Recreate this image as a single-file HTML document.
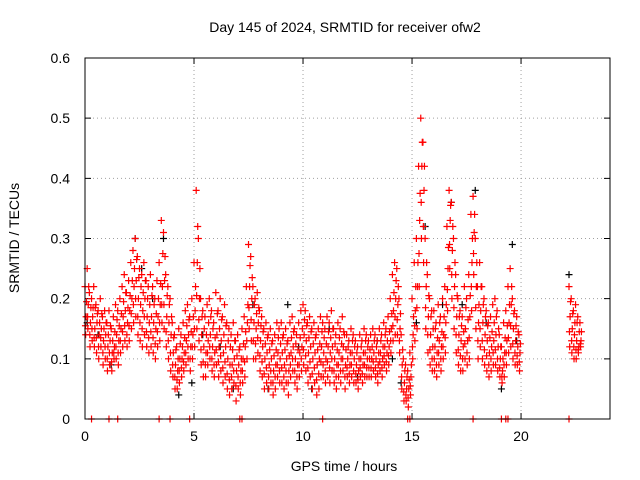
<!DOCTYPE html>
<html><head><meta charset="utf-8"><style>
body{margin:0;background:#fff;}
svg{display:block;font-family:"Liberation Sans",sans-serif;}
</style></head><body>
<svg id="chart" width="640" height="480">
<text x="345" y="32" text-anchor="middle" font-size="14">Day 145 of 2024, SRMTID for receiver ofw2</text>
<text x="344" y="471" text-anchor="middle" font-size="14">GPS time / hours</text>
<text transform="translate(19,238) rotate(-90)" text-anchor="middle" font-size="14">SRMTID / TECUs</text>
<g id="grid"></g><g id="marks"></g>
<rect x="85" y="58" width="525" height="361" fill="none" stroke="#000" stroke-width="1"/>
</svg>
<script>
const xTicks=[0,5,10,15,20];
const yTicks=[0,0.1,0.2,0.3,0.4,0.5,0.6];
const yTickLabels=["0","0.1","0.2","0.3","0.4","0.5","0.6"];
const hiVals=[.22,.25,.21,.20,.22,.19,.18,.20,.17,.18,.16,.18,.15,.17,.19,.18,.20,.22,.24,.21,.23,.26,.28,.30,.27,.25,.24,.26,.23,.22,.24,.22,.20,.23,.26,.33,.31,.24,.22,.20,.16,.14,.12,.15,.14,.16,.18,.19,.17,.20,.26,.38,.30,.20,.18,.17,.19,.20,.18,.16,.21,.18,.20,.17,.19,.16,.15,.14,.16,.13,.14,.12,.15,.17,.22,.29,.27,.22,.20,.21,.18,.17,.15,.16,.14,.15,.13,.14,.16,.15,.16,.14,.15,.13,.16,.17,.15,.14,.16,.18,.19,.18,.16,.17,.15,.16,.14,.15,.17,.16,.15,.17,.16,.18,.15,.14,.16,.15,.17,.14,.14,.13,.15,.14,.13,.12,.14,.13,.15,.14,.13,.14,.15,.14,.13,.15,.14,.16,.15,.17,.20,.24,.26,.25,.20,.14,.10,.09,.08,.11,.20,.26,.30,.42,.50,.46,.30,.24,.20,.18,.18,.16,.19,.17,.20,.22,.32,.38,.36,.30,.24,.20,.18,.17,.22,.20,.24,.34,.37,.30,.22,.26,.22,.20,.18,.16,.17,.19,.20,.18,.14,.12,.16,.18,.22,.25,.20,.18,.17,.14];
const midVals=[.17,.19,.16,.17,.15,.16,.14,.15,.13,.14,.12,.13,.11,.12,.14,.13,.15,.17,.18,.16,.18,.20,.22,.23,.20,.19,.18,.20,.17,.16,.17,.16,.15,.17,.19,.22,.23,.17,.16,.14,.11,.09,.08,.10,.10,.11,.13,.14,.12,.14,.18,.26,.20,.14,.12,.11,.13,.14,.12,.11,.14,.12,.13,.11,.12,.10,.09,.09,.10,.08,.09,.08,.10,.12,.16,.22,.20,.16,.15,.16,.13,.12,.10,.11,.09,.10,.08,.09,.11,.10,.11,.09,.10,.08,.11,.12,.10,.09,.11,.12,.14,.13,.11,.12,.10,.11,.09,.10,.12,.11,.10,.12,.11,.12,.10,.09,.11,.10,.12,.09,.10,.09,.11,.10,.09,.08,.10,.09,.11,.10,.10,.10,.11,.10,.09,.11,.10,.12,.11,.12,.15,.18,.20,.19,.15,.09,.06,.05,.05,.07,.14,.18,.22,.33,.42,.38,.22,.17,.14,.12,.12,.11,.13,.12,.14,.16,.25,.33,.28,.22,.17,.14,.13,.12,.15,.13,.17,.26,.31,.22,.16,.18,.16,.14,.13,.11,.12,.13,.14,.12,.10,.08,.11,.13,.16,.19,.15,.13,.12,.11];
const loVals=[.14,.15,.12,.13,.12,.11,.10,.12,.09,.10,.08,.09,.08,.10,.10,.09,.11,.12,.13,.12,.13,.15,.16,.17,.14,.13,.12,.14,.12,.11,.12,.11,.10,.12,.13,.16,.15,.12,.10,.08,.07,.05,.05,.06,.07,.08,.09,.10,.08,.10,.12,.15,.13,.09,.07,.07,.09,.10,.08,.07,.09,.07,.08,.06,.07,.05,.04,.05,.06,.03,.05,.04,.06,.07,.10,.15,.13,.10,.10,.11,.08,.07,.05,.06,.05,.06,.04,.05,.07,.06,.06,.05,.06,.04,.07,.08,.06,.05,.07,.08,.09,.08,.06,.07,.05,.06,.04,.05,.07,.07,.06,.07,.06,.08,.06,.05,.07,.06,.08,.05,.07,.06,.07,.06,.06,.05,.07,.06,.07,.07,.07,.07,.08,.07,.06,.08,.07,.09,.08,.09,.11,.13,.14,.14,.11,.05,.03,.03,.02,.04,.10,.13,.15,.22,.30,.26,.15,.11,.09,.08,.08,.07,.09,.08,.10,.11,.18,.25,.20,.15,.11,.09,.08,.08,.10,.09,.10,.18,.24,.15,.10,.12,.10,.09,.08,.07,.08,.09,.09,.08,.07,.06,.07,.09,.11,.12,.10,.09,.09,.08];
const lateTimes=[22.2,22.3,22.4,22.5,22.6,22.7];
const lateHi=[.22,.20,.18,.19,.17,.16];
const lateMid=[.17,.15,.14,.13,.12,.13];
const lateLo=[.12,.11,.10,.10,.11,.12];
const blackTimes=[0.1,0.6,1.2,2.3,2.6,3.1,3.6,4.3,4.9,5.4,6.2,6.8,7.7,8.4,9.3,9.8,10.4,11.2,12.5,13.4,14.1,14.5,15.2,15.6,16.4,16.8,17.3,17.9,18.4,19.1,19.6,19.8,22.2];
const blackVals=[.16,.14,.09,.30,.25,.20,.30,.04,.06,.14,.12,.05,.19,.05,.19,.12,.05,.15,.07,.13,.10,.06,.16,.32,.19,.36,.19,.38,.16,.05,.29,.13,.24];
const zeroTimes=[0.3,1.1,1.5,3.4,3.9,4.8,7.1,7.2,10.9,14.8,14.9,17.8,19.1,19.3,19.4,22.2];
const zeroVals=[0,0,0,0,0,0,0,0,0,0,0,0,0,0,0,0];
const times=hiVals.map((_,i)=>i/10);

const NS="http://www.w3.org/2000/svg";
const X0=85,X1=610,Y0=419,Y1=58,XMAX=24.08,YMAX=0.6;
const xs=t=>X0+t/XMAX*(X1-X0);
const ys=v=>Y0-v/YMAX*(Y0-Y1);
const grid=document.getElementById('grid'),marks=document.getElementById('marks');
function mk(tag,attrs,parent){const e=document.createElementNS(NS,tag);for(const k in attrs)e.setAttribute(k,attrs[k]);parent.appendChild(e);return e;}
xTicks.forEach(t=>{
  const x=xs(t);
  if(t>0){const g=mk('line',{x1:x,x2:x,y1:Y1,y2:Y0,stroke:'#a0a0a0','stroke-dasharray':'1,3'},grid);
  
  }
  const tk=mk('path',{d:`M${x},${Y0}v-6M${x},${Y1}v6`,stroke:'#000'},grid);
  
  
  const l=mk('text',{x:x,y:Y0+22,'text-anchor':'middle','font-size':14},grid);l.textContent=t;
  
  
});
yTicks.forEach((v,i)=>{
  const y=ys(v);
  if(v>0&&v<YMAX){const g=mk('line',{x1:X0,x2:X1,y1:y,y2:y,stroke:'#a0a0a0','stroke-dasharray':'1,3'},grid);
  
  }
  const tk=mk('path',{d:`M${X0},${y}h6M${X1},${y}h-6`,stroke:'#000'},grid);
  
  
  const l=mk('text',{x:X0-15,y:y+5,'text-anchor':'end','font-size':14},grid);l.textContent=yTickLabels[i];
  
  
});
function plus(t,v,color,name){
  const x=xs(t),y=ys(v);
  const p=mk('path',{d:`M${x-3.5},${y}h7M${x},${y-3.5}v7`,stroke:color,'stroke-width':1.2},marks);
  
  
}
blackTimes.forEach((t,i)=>plus(t,blackVals[i],'#000','black-point'));
times.forEach((t,i)=>{
  plus(t,hiVals[i],'#f00','red-point');
  plus(t+0.05,midVals[i],'#f00','red-point');
  plus(t+0.03,loVals[i],'#f00','red-point');
  plus(t+0.07,(hiVals[i]+midVals[i])/2,'#f00','red-point');
  plus(t+0.02,(midVals[i]+loVals[i])/2,'#f00','red-point');
});
lateTimes.forEach((t,i)=>{
  plus(t,lateHi[i],'#f00','red-point');
  plus(t+0.05,lateMid[i],'#f00','red-point');
  plus(t+0.03,lateLo[i],'#f00','red-point');
  plus(t+0.07,(lateHi[i]+lateMid[i])/2,'#f00','red-point');
  plus(t+0.02,(lateMid[i]+lateLo[i])/2,'#f00','red-point');
});
zeroTimes.forEach((t,i)=>plus(t,zeroVals[i],'#f00','zero-point'));
</script>
</body></html>
